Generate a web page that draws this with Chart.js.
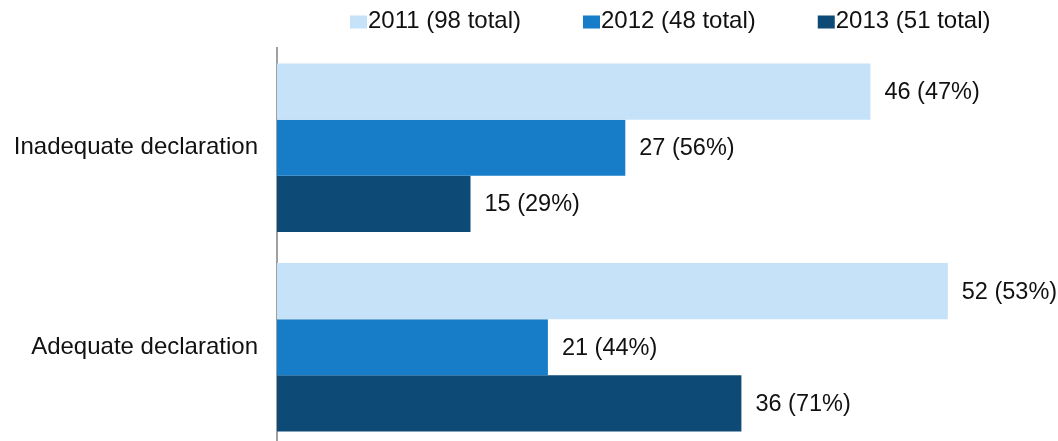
<!DOCTYPE html>
<html>
<head>
<meta charset="utf-8">
<script src="https://cdn.jsdelivr.net/npm/chart.js@4/dist/chart.umd.min.js"></script>
<style>
  html, body { margin:0; padding:0; background:#fff; overflow:hidden; }
  #c { display:block; }
</style>
</head>
<body>
<canvas id="c" width="1058" height="441" style="width:1058px;height:441px"></canvas>
<script>
const categories = ["Inadequate declaration", "Adequate declaration"];
const seriesNames = ["2011", "2012", "2013"];
const seriesTotals = [98, 48, 51];
const values2011 = [46, 52];
const values2012 = [27, 21];
const values2013 = [15, 36];
const pct2011 = [47, 53];
const pct2012 = [56, 44];
const pct2013 = [29, 71];
const colors = ["#c6e2f8", "#177dc8", "#0d4a76"];

const FONT = "'Liberation Sans', Arial, sans-serif";

const valueLists = [values2011, values2012, values2013];
const pctLists = [pct2011, pct2012, pct2013];

const datasets = seriesNames.map((n, i) => ({
  label: n + " (" + seriesTotals[i] + " total)",
  data: valueLists[i],
  pcts: pctLists[i],
  backgroundColor: colors[i],
  borderWidth: 0,
  categoryPercentage: 0.844,
  barPercentage: 1.0
}));

// plot area runs a little past the bottom edge of the picture (cropped like the reference)
const extendArea = {
  id: 'extendArea',
  afterLayout(chart) {
    const y = chart.scales.y;
    const bottom = 447;
    y.bottom = bottom;
    y.height = bottom - y.top;
    chart.chartArea.bottom = bottom;
    chart.chartArea.height = bottom - chart.chartArea.top;
    y.configure();
  }
};

const valueLabels = {
  id: 'valueLabels',
  afterDatasetsDraw(chart) {
    const ctx = chart.ctx;
    ctx.save();
    ctx.font = "23.5px " + FONT;
    ctx.fillStyle = "#111";
    ctx.textAlign = "left";
    ctx.textBaseline = "middle";
    chart.data.datasets.forEach((ds, di) => {
      const meta = chart.getDatasetMeta(di);
      meta.data.forEach((bar, j) => {
        ctx.fillText(ds.data[j] + " (" + ds.pcts[j] + "%)", bar.x + 14, bar.y + 1);
      });
    });
    ctx.restore();
  }
};

const customLegend = {
  id: 'customLegend',
  afterDraw(chart) {
    const ctx = chart.ctx;
    ctx.save();
    ctx.font = "24px " + FONT;
    ctx.textBaseline = "middle";
    ctx.textAlign = "left";
    const boxW = 17, boxH = 13, gap = 1, itemGap = 62;
    const items = chart.data.datasets.map(ds => ({
      text: ds.label, color: ds.backgroundColor,
      w: boxW + gap + ctx.measureText(ds.label).width
    }));
    let x = 350;
    const cy = 21;
    items.forEach(it => {
      ctx.fillStyle = it.color;
      ctx.fillRect(x, cy - boxH / 2 + 1, boxW, boxH);
      ctx.fillStyle = "#111";
      ctx.fillText(it.text, x + boxW + gap, cy);
      x += it.w + itemGap;
    });
    ctx.restore();
  }
};

new Chart(document.getElementById('c'), {
  type: 'bar',
  data: { labels: categories, datasets },
  options: {
    indexAxis: 'y',
    responsive: false,
    animation: false,
    layout: { padding: { top: 48, bottom: 0, left: 0, right: 7 } },
    plugins: {
      legend: { display: false },
      tooltip: { enabled: false }
    },
    scales: {
      x: {
        display: false,
        min: 0,
        max: 60
      },
      y: {
        afterFit(scale) { scale.width = 277; },
        grid: { display: false, drawTicks: false },
        border: { display: true, color: "#a0a0a0", width: 2 },
        ticks: {
          padding: 19,
          color: "#111",
          font: { family: FONT, size: 24 }
        }
      }
    }
  },
  plugins: [extendArea, valueLabels, customLegend]
});
</script>
</body>
</html>
